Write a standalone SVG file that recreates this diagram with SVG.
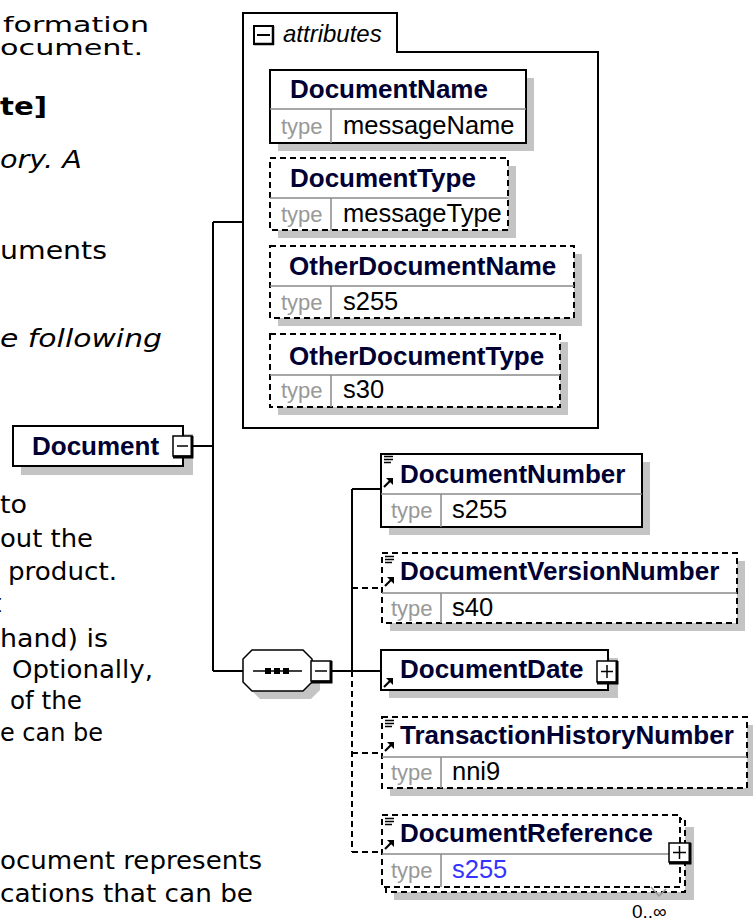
<svg xmlns="http://www.w3.org/2000/svg" width="753" height="921" viewBox="0 0 753 921">
<defs>
<style>
.body{font-family:"DejaVu Sans",Verdana,sans-serif;font-size:24px;fill:#000}
.name{font-family:"Liberation Sans",Arial,sans-serif;font-weight:bold;font-size:26px;fill:#000033}
.tl{font-family:"Liberation Sans",Arial,sans-serif;font-size:22px;fill:#999}
.tv{font-family:"Liberation Sans",Arial,sans-serif;font-size:25.5px;fill:#000}
.box{fill:#fff;stroke:#000;stroke-width:2}
.dbox{fill:#fff;stroke:#000;stroke-width:2;stroke-dasharray:6 4}
.sh{fill:#c4c4c4}
.dv{stroke:#8a8a8a;stroke-width:1.5}
.conn{stroke:#000;stroke-width:2;fill:none}
.dconn{stroke:#000;stroke-width:2;fill:none;stroke-dasharray:6 4}
.btn{fill:#fff;stroke:#000;stroke-width:1.5}
.btnedge{stroke:#000;stroke-width:3;fill:none}
</style>
<g id="arrowicon">
<path d="M0,9 L6,3" stroke="#000" stroke-width="2.2" fill="none"/>
<polygon points="2,0 9,0 9,7" fill="#000"/>
</g>
<g id="docicon">
<path d="M0,0.5 H9 M0,3.5 H9 M0,6.5 H7" stroke="#000" stroke-width="1.4" fill="none"/>
</g>
</defs>
<rect width="753" height="921" fill="#fff"/>

<g id="description">
<text class="body" x="3" y="32" font-size="22px" style="font-size:22px" textLength="146" lengthAdjust="spacingAndGlyphs">formation</text>
<text class="body" x="0" y="55" font-size="22px" style="font-size:22px" textLength="143" lengthAdjust="spacingAndGlyphs">ocument.</text>
<text class="body" x="0" y="115" font-weight="bold" textLength="47" lengthAdjust="spacingAndGlyphs">te]</text>
<text class="body" x="0" y="168" font-style="italic" textLength="82" lengthAdjust="spacingAndGlyphs">ory. A</text>
<text class="body" x="0" y="259" textLength="107" lengthAdjust="spacingAndGlyphs">uments</text>
<text class="body" x="0" y="347" font-style="italic" textLength="162" lengthAdjust="spacingAndGlyphs">e following</text>
<text class="body" x="0" y="513" textLength="27" lengthAdjust="spacingAndGlyphs">to</text>
<text class="body" x="0" y="547" textLength="93" lengthAdjust="spacingAndGlyphs">out the</text>
<text class="body" x="8" y="580" textLength="109" lengthAdjust="spacingAndGlyphs">product.</text>
<text class="body" x="-8" y="612">t</text>
<text class="body" x="0" y="647" textLength="108" lengthAdjust="spacingAndGlyphs">hand) is</text>
<text class="body" x="12" y="678" textLength="141" lengthAdjust="spacingAndGlyphs">Optionally,</text>
<text class="body" x="10" y="709" textLength="72" lengthAdjust="spacingAndGlyphs">of the</text>
<text class="body" x="0" y="741" textLength="103" lengthAdjust="spacingAndGlyphs">e can be</text>
<text class="body" x="0" y="869" textLength="262" lengthAdjust="spacingAndGlyphs">ocument represents</text>
<text class="body" x="0" y="902" textLength="253" lengthAdjust="spacingAndGlyphs">cations that can be</text>
</g>

<g id="connectors">
<path class="conn" d="M193,446 H213 M213,222 V671 M213,222 H243 M213,671 H243"/>
<path class="conn" d="M332,671 H381 M352,489 V671 M352,489 H381"/>
<path class="dconn" d="M352,671 V852 M352,588 H380 M352,753 H380 M352,852 H380"/>
</g>

<g id="node-Document">
<rect class="sh" x="21" y="434" width="172" height="41"/>
<rect class="box" x="13" y="426" width="170" height="40"/>
<text class="name" x="32" y="455">Document</text>
<rect class="btn" x="173" y="436" width="19" height="20"/>
<path class="btnedge" d="M192,436 V457 H173"/>
<path d="M177,446 H188" stroke="#000" stroke-width="1.5"/>
</g>

<g id="node-attributes">
<path d="M243,428 V13 H397 V52 H598 V428 Z" fill="#fff" stroke="#000" stroke-width="2"/>
<rect x="254" y="26" width="19" height="18" fill="#fff" stroke="#000" stroke-width="2"/>
<path d="M254,44 H274 M273,26 V45" stroke="#000" stroke-width="2.5"/>
<path d="M257,35 H270" stroke="#000" stroke-width="2"/>
<text x="283" y="42" font-family="Liberation Sans,Arial,sans-serif" font-style="italic" font-size="24px" fill="#000">attributes</text>
</g>

<g id="node-DocumentName">
<rect class="sh" x="278" y="78" width="256" height="73"/>
<rect class="box" x="270" y="70" width="256" height="73"/>
<path class="dv" d="M270,109 H526 M331,109 V143"/>
<text class="name" x="290" y="98">DocumentName</text>
<text class="tl" x="281" y="134">type</text>
<text class="tv" x="343" y="134">messageName</text>
</g>

<g id="node-DocumentType">
<rect class="sh" x="278" y="166" width="238" height="72"/>
<rect class="dbox" x="270" y="158" width="238" height="72"/>
<path class="dv" d="M270,198 H508 M331,198 V230"/>
<text class="name" x="290" y="187">DocumentType</text>
<text class="tl" x="281" y="222">type</text>
<text class="tv" x="343" y="222">messageType</text>
</g>

<g id="node-OtherDocumentName">
<rect class="sh" x="278" y="254" width="304" height="72"/>
<rect class="dbox" x="270" y="246" width="304" height="72"/>
<path class="dv" d="M270,286 H574 M331,286 V318"/>
<text class="name" x="289" y="275">OtherDocumentName</text>
<text class="tl" x="281" y="310">type</text>
<text class="tv" x="343" y="310">s255</text>
</g>

<g id="node-OtherDocumentType">
<rect class="sh" x="278" y="342" width="290" height="73"/>
<rect class="dbox" x="270" y="334" width="290" height="73"/>
<path class="dv" d="M270,375 H560 M331,375 V407"/>
<text class="name" x="289" y="365">OtherDocumentType</text>
<text class="tl" x="281" y="398">type</text>
<text class="tv" x="343" y="398">s30</text>
</g>

<g id="node-sequence">
<polygon class="sh" points="260,658 311,658 320,667 320,690 311,699 260,699 251,690 251,667"/>
<polygon points="252,650 303,650 312,659 312,682 303,691 252,691 243,682 243,659" fill="#fff" stroke="#000" stroke-width="1.5"/>
<path d="M253,671 H302" stroke="#000" stroke-width="1.5"/>
<rect x="265" y="668" width="6" height="6" fill="#000"/>
<rect x="274" y="668" width="6" height="6" fill="#000"/>
<rect x="283" y="668" width="6" height="6" fill="#000"/>
<rect class="btn" x="311" y="661" width="20" height="20"/>
<path class="btnedge" d="M331,661 V682 H311"/>
<path d="M315,671 H327" stroke="#000" stroke-width="1.5"/>
</g>

<g id="node-DocumentNumber">
<rect class="sh" x="389" y="462" width="261" height="73"/>
<rect class="box" x="381" y="454" width="261" height="73"/>
<path class="dv" d="M381,494 H642 M441,494 V527"/>
<use href="#docicon" x="384" y="456"/>
<use href="#arrowicon" x="384" y="478"/>
<text class="name" x="400" y="483">DocumentNumber</text>
<text class="tl" x="391" y="518">type</text>
<text class="tv" x="452" y="518">s255</text>
</g>

<g id="node-DocumentVersionNumber">
<rect class="sh" x="390" y="561" width="355" height="70"/>
<rect class="dbox" x="382" y="553" width="355" height="70"/>
<path class="dv" d="M382,593 H737 M441,593 V623"/>
<use href="#docicon" x="385" y="556"/>
<use href="#arrowicon" x="385" y="577"/>
<text class="name" x="400" y="580">DocumentVersionNumber</text>
<text class="tl" x="391" y="616">type</text>
<text class="tv" x="452" y="616">s40</text>
</g>

<g id="node-DocumentDate">
<rect class="sh" x="389" y="658" width="229" height="40"/>
<rect class="box" x="381" y="650" width="227" height="40"/>
<use href="#arrowicon" x="384" y="678"/>
<text class="name" x="400" y="678">DocumentDate</text>
<rect class="btn" x="597" y="661" width="20" height="21"/>
<path class="btnedge" d="M617,661 V683 H597"/>
<path d="M601,671.5 H613 M607,665 V678" stroke="#000" stroke-width="1.5"/>
</g>

<g id="node-TransactionHistoryNumber">
<rect class="sh" x="390" y="725" width="365" height="71"/>
<rect class="dbox" x="382" y="717" width="365" height="71"/>
<path class="dv" d="M382,757 H747 M441,757 V788"/>
<use href="#docicon" x="385" y="720"/>
<use href="#arrowicon" x="385" y="742"/>
<text class="name" x="400" y="744">TransactionHistoryNumber</text>
<text class="tl" x="391" y="780">type</text>
<text class="tv" x="452" y="780">nni9</text>
</g>

<g id="node-DocumentReference">
<rect class="sh" x="394" y="827" width="300" height="73"/>
<rect class="dbox" x="386" y="819" width="299" height="73"/>
<rect class="dbox" x="382" y="815" width="298" height="72"/>
<path class="dv" d="M382,854 H669 M441,854 V887"/>
<use href="#docicon" x="385" y="818"/>
<use href="#arrowicon" x="385" y="840"/>
<text class="name" x="400" y="842">DocumentReference</text>
<text class="tl" x="391" y="878">type</text>
<text class="tv" x="452" y="878" style="fill:#3333ff">s255</text>
<rect class="btn" x="669" y="843" width="21" height="19"/>
<path class="btnedge" d="M690,843 V863 H669"/>
<path d="M673,852.5 H686 M679.5,846 V859" stroke="#000" stroke-width="1.5"/>
<path d="M651,887 L659,896 L666,889" stroke="#999" stroke-width="1.5" fill="none"/>
<text x="632" y="918" font-family="Liberation Sans,Arial,sans-serif" font-size="19px" fill="#000">0..∞</text>
</g>
</svg>
